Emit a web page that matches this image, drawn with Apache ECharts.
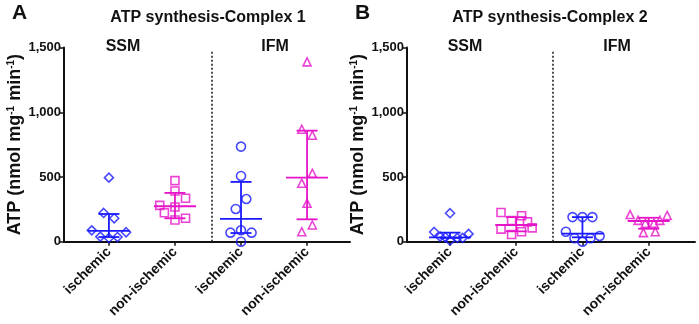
<!DOCTYPE html>
<html>
<head>
<meta charset="utf-8">
<script src="https://cdn.jsdelivr.net/npm/echarts@6/dist/echarts.min.js"></script>
<style>
  html, body { margin: 0; padding: 0; background: #fff; }
  #chart { width: 699px; height: 324px; }
</style>
</head>
<body>
<div id="chart"></div>
<script>
const groups = ["ischemic", "non-ischemic", "ischemic", "non-ischemic"];
const yTicks = [0, 500, 1000, 1500];

// panel A, complex 1 (jitter in category units)
const aSsmIsch = [495, 222, 181, 88, 73, 39, 29, 36];
const aSsmIschJit = [0, -0.08, 0.08, -0.26, 0.26, -0.13, 0, 0.13];
const aSsmNon = [472, 392, 336, 281, 268, 224, 168, 181];
const aSsmNonJit = [0, 0, 0.16, -0.23, 0, -0.16, 0, 0.16];
const aIfmIsch = [735, 508, 330, 253, 88, 70, 70, 0];
const aIfmIschJit = [0, 0, 0.08, -0.08, 0, -0.16, 0.16, 0];
const aIfmNon = [1390, 869, 823, 529, 452, 297, 129, 77];
const aIfmNonJit = [0, -0.08, 0.08, 0.08, -0.08, 0, 0.08, -0.08];
const aMedian = [83, 274, 176, 495];
const aLower = [36, 181, 67, 173];
const aUpper = [214, 377, 462, 858];

// panel B, complex 2
const bSsmIsch = [220, 75, 39, 34, 8, 29, 29, 60];
const bSsmIschJit = [0, -0.24, -0.15, -0.07, 0, 0.11, 0.19, 0.28];
const bSsmNon = [226, 164, 200, 153, 97, 107, 56, 77];
const bSsmNonJit = [-0.23, -0.07, 0.08, 0.17, -0.23, 0.24, -0.07, 0.08];
const bIfmIsch = [190, 190, 190, 77, 27, 0, 27, 44];
const bIfmIschJit = [-0.15, 0, 0.15, -0.25, -0.12, 0, 0.12, 0.26];
const bIfmNon = [210, 203, 165, 143, 143, 165, 70, 77];
const bIfmNonJit = [-0.28, 0.28, -0.16, -0.05, 0.08, 0.17, -0.08, 0.1];
const bMedian = [34, 129, 62, 160];
const bLower = [29, 80, 34, 100];
const bUpper = [70, 190, 190, 185];

const BLUE = "#1a1aff";
const PINK = "#e614c8";
const FONT = "Liberation Sans";

const chart = echarts.init(document.getElementById("chart"));

function pts(vals, jit, pos) {
  return vals.map((v, i) => [pos + jit[i], v]);
}

function dots(idx, vals, jit, pos, symbol, size, color) {
  return {
    type: "scatter", xAxisIndex: idx, yAxisIndex: idx,
    symbol: symbol, symbolSize: size,
    itemStyle: { color: "rgba(0,0,0,0)", borderColor: color, borderWidth: 1.6 },
    data: pts(vals, jit, pos), z: 3
  };
}

function bars(idx, med, lo, hi) {
  return {
    type: "custom", xAxisIndex: idx, yAxisIndex: idx, z: 2,
    data: med.map((m, i) => [i + 1, m, lo[i], hi[i]]),
    renderItem: function (params, api) {
      const c = (api.value(0) % 2 === 1) ? BLUE : PINK;
      const m = api.coord([api.value(0), api.value(1)]);
      const l = api.coord([api.value(0), api.value(2)]);
      const h = api.coord([api.value(0), api.value(3)]);
      const st = { stroke: c, lineWidth: 1.8 };
      const ln = (x1, y1, x2, y2) => ({ type: "line", shape: { x1, y1, x2, y2 }, style: st });
      return { type: "group", children: [
        ln(m[0] - 21, m[1], m[0] + 21, m[1]),
        ln(h[0], h[1], l[0], l[1]),
        ln(h[0] - 10.5, h[1], h[0] + 10.5, h[1]),
        ln(l[0] - 10.5, l[1], l[0] + 10.5, l[1])
      ] };
    }
  };
}

function divider(idx) {
  return {
    type: "line", xAxisIndex: idx, yAxisIndex: idx, data: [], silent: true,
    markLine: {
      symbol: "none", silent: true, label: { show: false },
      lineStyle: { color: "#222", type: [2, 2], width: 1.6 },
      data: [[{ coord: [2.55, 0] }, { coord: [2.55, 1475] }]]
    }
  };
}

function xAxis(idx, min, max) {
  return {
    type: "value", gridIndex: idx, min: min, max: max,
    splitLine: { show: false },
    axisLine: { lineStyle: { color: "#111", width: 2 } },
    axisTick: { customValues: [1, 2, 3, 4], length: 4, lineStyle: { color: "#111", width: 1.5 } },
    axisLabel: {
      customValues: [1, 2, 3, 4], rotate: 45, margin: 8,
      formatter: v => groups[Math.round(v) - 1],
      fontFamily: FONT, fontWeight: "bold", fontSize: 14, color: "#111"
    }
  };
}

function yAxis(idx) {
  return {
    type: "value", gridIndex: idx, min: yTicks[0], max: yTicks[yTicks.length - 1], interval: 500,
    splitLine: { show: false },
    axisLine: { show: true, lineStyle: { color: "#111", width: 2 } },
    axisTick: { show: true, length: 4, lineStyle: { color: "#111", width: 1.5 } },
    axisLabel: {
      margin: 3, formatter: v => v.toLocaleString("en-US"),
      fontFamily: FONT, fontWeight: "bold", fontSize: 13, color: "#111"
    },
    name: "{b|ATP (nmol mg}{s|-1}{b| min}{s|-1}{b|)}",
    nameLocation: "middle", nameGap: 40, nameRotate: 90,
    nameTextStyle: {
      rich: {
        b: { fontFamily: FONT, fontWeight: "bold", fontSize: 18, color: "#111", verticalAlign: "bottom", lineHeight: 18 },
        s: { fontFamily: FONT, fontWeight: "bold", fontSize: 10, color: "#111", verticalAlign: "top", padding: [0, 0, 8, 0] }
      }
    }
  };
}

function txt(x, y, s, size) {
  return {
    type: "text", x: x, y: y,
    style: { text: s, fontFamily: FONT, fontWeight: "bold", fontSize: size, fill: "#111", align: "center", verticalAlign: "middle" }
  };
}

chart.setOption({
  animation: false,
  grid: [
    { left: 64, width: 286, top: 47.6, height: 194.1 },
    { left: 407, width: 288, top: 47.6, height: 194.1 }
  ],
  xAxis: [xAxis(0, 0.32, 4.65), xAxis(1, 0.35, 4.70)],
  yAxis: [yAxis(0), yAxis(1)],
  graphic: [
    txt(19.5, 13, "A", 21), txt(362.5, 13, "B", 21),
    txt(208, 18, "ATP synthesis-Complex 1", 16),
    txt(550, 18, "ATP synthesis-Complex 2", 16),
    txt(123, 47, "SSM", 16), txt(275, 47, "IFM", 16),
    txt(465, 47, "SSM", 16), txt(617, 47, "IFM", 16)
  ],
  series: [
    divider(0), divider(1),
    bars(0, aMedian, aLower, aUpper),
    bars(1, bMedian, bLower, bUpper),
    dots(0, aSsmIsch, aSsmIschJit, 1, "diamond", 9, BLUE),
    dots(0, aSsmNon, aSsmNonJit, 2, "rect", 8, PINK),
    dots(0, aIfmIsch, aIfmIschJit, 3, "circle", 9, BLUE),
    dots(0, aIfmNon, aIfmNonJit, 4, "triangle", 8, PINK),
    dots(1, bSsmIsch, bSsmIschJit, 1, "diamond", 9, BLUE),
    dots(1, bSsmNon, bSsmNonJit, 2, "rect", 8, PINK),
    dots(1, bIfmIsch, bIfmIschJit, 3, "circle", 9, BLUE),
    dots(1, bIfmNon, bIfmNonJit, 4, "triangle", 8, PINK)
  ]
});
</script>
</body>
</html>
